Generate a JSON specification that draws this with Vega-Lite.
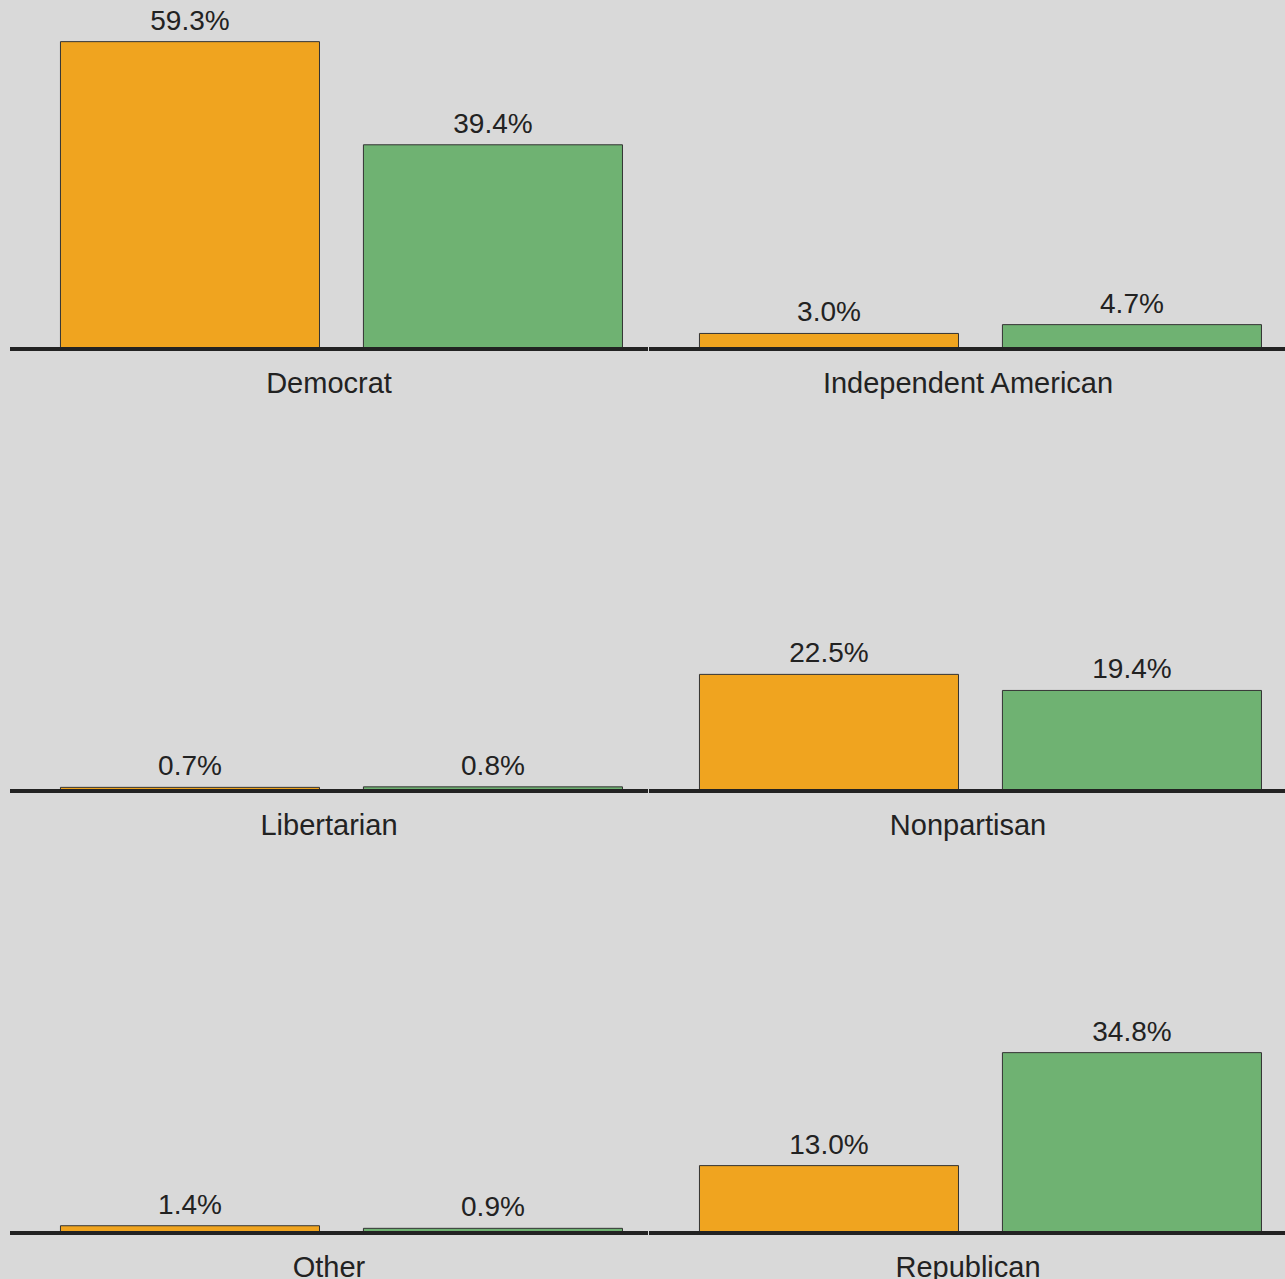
{
  "$schema": "https://vega.github.io/schema/vega-lite/v6.json",
  "background": "#d9d9d9",
  "padding": {"left": 8, "top": 7, "right": 0, "bottom": 48},
  "autosize": {"type": "pad"},
  "bounds": "flush",
  "data": {"values": [
    {"party": "Democrat", "group": "Group 1", "share": 0.593},
    {"party": "Democrat", "group": "Group 2", "share": 0.394},
    {"party": "Independent American", "group": "Group 1", "share": 0.030},
    {"party": "Independent American", "group": "Group 2", "share": 0.047},
    {"party": "Libertarian", "group": "Group 1", "share": 0.007},
    {"party": "Libertarian", "group": "Group 2", "share": 0.008},
    {"party": "Nonpartisan", "group": "Group 1", "share": 0.225},
    {"party": "Nonpartisan", "group": "Group 2", "share": 0.194},
    {"party": "Other", "group": "Group 1", "share": 0.014},
    {"party": "Other", "group": "Group 2", "share": 0.009},
    {"party": "Republican", "group": "Group 1", "share": 0.130},
    {"party": "Republican", "group": "Group 2", "share": 0.348}
  ]},
  "facet": {
    "field": "party",
    "type": "nominal",
    "sort": ["Democrat", "Independent American", "Libertarian", "Nonpartisan", "Other", "Republican"],
    "header": {
      "title": null,
      "labelOrient": "bottom",
      "labelFont": "Liberation Sans",
      "labelFontSize": 29,
      "labelColor": "#222222",
      "labelPadding": 19,
      "labelBaseline": "top"
    }
  },
  "columns": 2,
  "spacing": {"column": 1, "row": 102},
  "spec": {
    "width": 638,
    "height": 340,
    "encoding": {
      "x": {"field": "group", "type": "nominal", "axis": null,
            "scale": {"paddingInner": 0.145, "paddingOuter": 0.1254, "align": 0.664}},
      "y": {"field": "share", "type": "quantitative", "axis": null,
            "scale": {"domain": [0, 0.656], "nice": false}}
    },
    "layer": [
      {
        "mark": {"type": "bar", "stroke": "#333333", "strokeWidth": 1},
        "encoding": {
          "color": {"field": "group", "type": "nominal", "legend": null,
                    "scale": {"domain": ["Group 1", "Group 2"], "range": ["#F0A41F", "#6FB272"]}}
        }
      },
      {
        "mark": {"type": "text", "font": "Liberation Sans", "fontSize": 28, "color": "#222222", "baseline": "bottom", "dy": -6},
        "encoding": {
          "text": {"field": "share", "type": "quantitative", "format": ".1%"}
        }
      },
      {
        "mark": {"type": "rule", "color": "#222222", "strokeWidth": 4},
        "encoding": {
          "x": {"value": 0},
          "x2": {"value": 638},
          "y": {"datum": 0}
        }
      }
    ]
  },
  "config": {"view": {"stroke": null}}
}
